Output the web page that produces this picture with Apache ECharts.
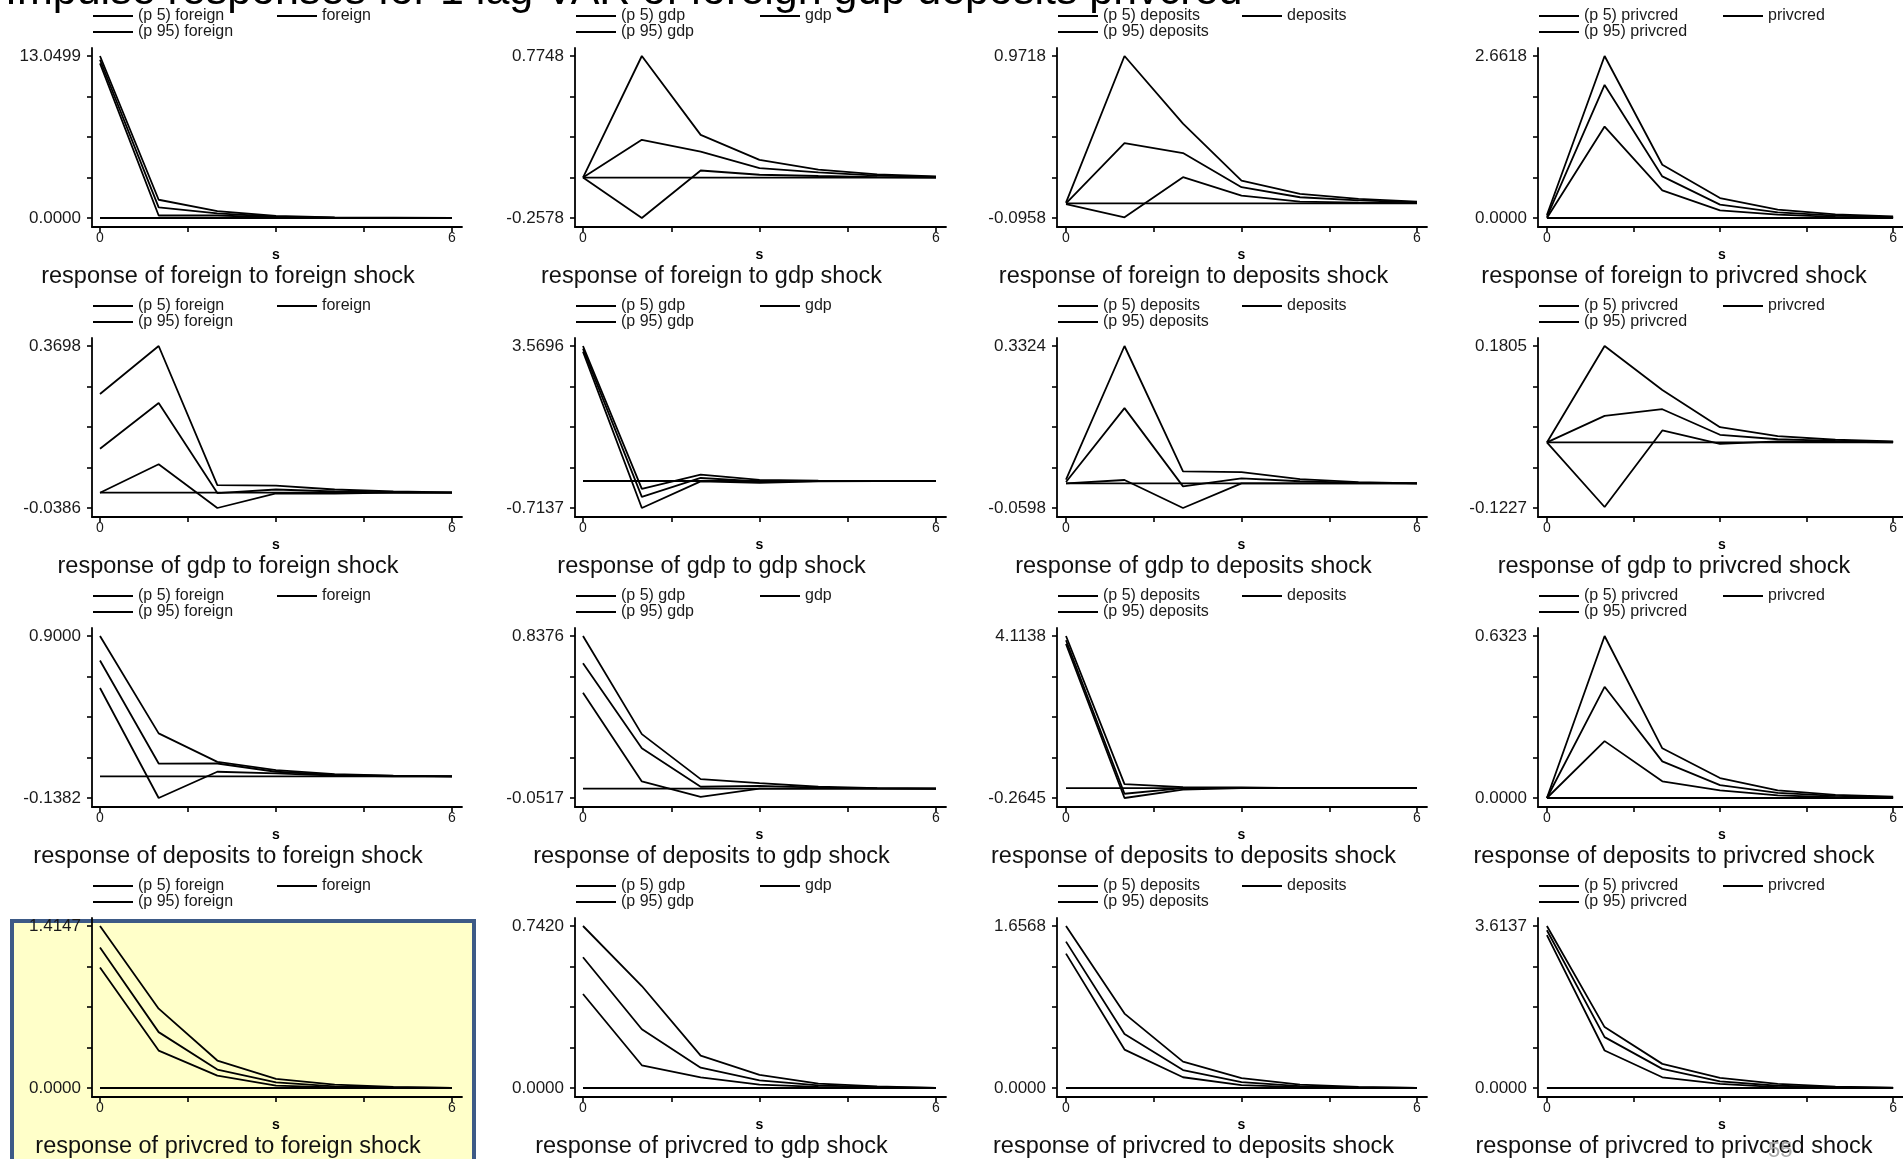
<!DOCTYPE html>
<html><head><meta charset="utf-8">
<script src="https://cdn.jsdelivr.net/npm/echarts@6/dist/echarts.min.js"></script>
<style>html,body{margin:0;padding:0;background:#fff}#c{width:1903px;height:1159px}</style>
</head><body><div id="c"></div>
<script>
const titleText = 'Impulse responses for 1 lag VAR of foreign gdp deposits privcred';
const steps = [0, 1, 2, 3, 4, 5, 6];
const zeroLine = [0, 0, 0, 0, 0, 0, 0];
const variables = ['foreign', 'gdp', 'deposits', 'privcred'];
const xTicks = [0, 1.5, 3, 4.5, 6];
const xLabels = [0, 6];

// labelled axis maximum / minimum, [response][impulse]
const yMaxLabel = [
  [13.0499, 0.7748, 0.9718, 2.6618],
  [0.3698, 3.5696, 0.3324, 0.1805],
  [0.9000, 0.8376, 4.1138, 0.6323],
  [1.4147, 0.7420, 1.6568, 3.6137]
];
const yMinLabel = [
  [0.0000, -0.2578, -0.0958, 0.0000],
  [-0.0386, -0.7137, -0.0598, -0.1227],
  [-0.1382, -0.0517, -0.2645, 0.0000],
  [0.0000, 0.0000, 0.0000, 0.0000]
];

// response of foreign to [foreign, gdp, deposits, privcred] shocks
const p5_foreign = [
  [12.45, 0.20, 0.20, 0.05, 0.01, 0.00, 0.00],
  [0, -0.2578, 0.045, 0.018, 0.010, 0.003, 0.000],
  [-0.005, -0.091, 0.173, 0.052, 0.012, 0.005, 0.002],
  [0, 1.503, 0.454, 0.126, 0.055, 0.020, 0.005]
];
const irf_foreign = [
  [12.75, 0.85, 0.38, 0.10, 0.03, 0.01, 0.003],
  [0, 0.2405, 0.166, 0.060, 0.033, 0.012, 0.004],
  [0, 0.398, 0.332, 0.107, 0.041, 0.020, 0.008],
  [0.02, 2.186, 0.683, 0.219, 0.093, 0.040, 0.015]
];
const p95_foreign = [
  [13.0499, 1.47, 0.55, 0.16, 0.05, 0.02, 0.005],
  [0, 0.7748, 0.272, 0.113, 0.050, 0.020, 0.008],
  [0.005, 0.9718, 0.526, 0.151, 0.063, 0.030, 0.012],
  [0.05, 2.6618, 0.875, 0.328, 0.137, 0.060, 0.025]
];
// response of gdp
const p5_gdp = [
  [0, 0.0716, -0.0386, -0.002, -0.002, 0, 0],
  [3.42, -0.7137, -0.01, -0.05, -0.01, -0.003, 0],
  [0, 0.008, -0.0598, 0.000, 0.000, 0, 0],
  [0, -0.1208, 0.0224, -0.0025, 0.002, 0.001, 0]
];
const irf_gdp = [
  [0.1109, 0.226, -0.001, 0.008, 0.003, 0.001, 0],
  [3.50, -0.42, 0.08, -0.01, 0.00, 0, 0],
  [0.003, 0.182, -0.0075, 0.012, 0.005, 0.001, 0],
  [0, 0.0498, 0.0622, 0.0143, 0.006, 0.003, 0.001]
];
const p95_gdp = [
  [0.2487, 0.3698, 0.019, 0.018, 0.008, 0.003, 0.001],
  [3.5696, -0.21, 0.17, 0.03, 0.01, 0.003, 0],
  [0.009, 0.3324, 0.029, 0.027, 0.010, 0.003, 0],
  [0, 0.1805, 0.0983, 0.0286, 0.012, 0.005, 0.002]
];
// response of deposits
const p5_deposits = [
  [0.5667, -0.1382, 0.030, 0.020, 0.005, 0, 0],
  [0.526, 0.039, -0.045, 0.000, 0, 0, 0],
  [3.90, -0.2645, -0.04, 0.00, 0, 0, 0],
  [0, 0.222, 0.065, 0.030, 0.010, 0.003, 0]
];
const irf_deposits = [
  [0.743, 0.0826, 0.083, 0.030, 0.010, 0.003, 0],
  [0.688, 0.221, 0.010, 0.015, 0.005, 0.001, 0],
  [4.00, -0.15, 0.00, 0.01, 0.003, 0, 0],
  [0, 0.434, 0.143, 0.050, 0.020, 0.008, 0.003]
];
const p95_deposits = [
  [0.9000, 0.2758, 0.093, 0.040, 0.015, 0.005, 0],
  [0.8376, 0.299, 0.052, 0.030, 0.010, 0.003, 0],
  [4.1138, 0.11, 0.03, 0.02, 0.005, 0, 0],
  [0, 0.6323, 0.194, 0.078, 0.030, 0.012, 0.005]
];
// response of privcred
const p5_privcred = [
  [1.052, 0.327, 0.108, 0.020, 0.005, 0, 0],
  [0.4305, 0.104, 0.049, 0.015, 0.005, 0, 0],
  [1.374, 0.393, 0.110, 0.030, 0.008, 0.002, 0],
  [3.41, 0.836, 0.239, 0.090, 0.020, 0.005, 0]
];
const irf_privcred = [
  [1.2276, 0.488, 0.161, 0.050, 0.015, 0.005, 0],
  [0.599, 0.269, 0.093, 0.035, 0.012, 0.004, 0],
  [1.497, 0.552, 0.184, 0.060, 0.020, 0.006, 0],
  [3.52, 1.135, 0.426, 0.149, 0.050, 0.020, 0.005]
];
const p95_privcred = [
  [1.4147, 0.6927, 0.240, 0.079, 0.030, 0.010, 0],
  [0.742, 0.467, 0.148, 0.060, 0.020, 0.007, 0],
  [1.6568, 0.761, 0.270, 0.100, 0.035, 0.012, 0],
  [3.6137, 1.359, 0.538, 0.224, 0.090, 0.030, 0.010]
];

const P5 = [p5_foreign, p5_gdp, p5_deposits, p5_privcred];
const IRF = [irf_foreign, irf_gdp, irf_deposits, irf_privcred];
const P95 = [p95_foreign, p95_gdp, p95_deposits, p95_privcred];

// ---------- layout ----------
const FONT = 'Liberation Sans, Arial, sans-serif';
const colAxisX = [92, 575, 1057, 1538];
const colX0 = [100, 583, 1066, 1547];
const colX6 = [452, 936, 1417, 1897];
const rowTop = [56, 346, 636, 926];
const plotH = 162, padTop = 8, padBottom = 9, padRight = 10;

const pairs = arr => steps.map((s, i) => [s, arr[i]]);
const lineStyle = {color: '#000', width: 1.8};

const grids = [], xAxes = [], yAxes = [], series = [], legends = [], graphics = [];

graphics.push({
  type: 'rect', z: -10,
  shape: {x: 12, y: 921, width: 462, height: 260},
  style: {fill: '#FFFFC9', stroke: '#3D5A86', lineWidth: 4}
});

for (let r = 0; r < 4; r++) {
  for (let c = 0; c < 4; c++) {
    const i = r * 4 + c;
    const ax = colAxisX[c], x0 = colX0[c], x6 = colX6[c];
    const unitX = (x6 - x0) / 6;
    const top = rowTop[r];
    const ymax = yMaxLabel[r][c], ymin = yMinLabel[r][c];
    const unitY = (ymax - ymin) / plotH;
    const imp = variables[c], resp = variables[r];

    grids.push({left: ax, top: top - padTop, width: x6 + padRight - ax, height: plotH + padTop + padBottom});

    xAxes.push({
      gridIndex: i, type: 'value', z: 3,
      min: -(x0 - ax) / unitX, max: 6 + padRight / unitX,
      axisLine: {show: true, onZero: false, lineStyle: {color: '#000', width: 1.8}},
      axisTick: {show: true, length: 5, customValues: xTicks, lineStyle: {color: '#000', width: 1.6}},
      axisLabel: {customValues: xLabels, fontSize: 14, color: '#1a1a1a', margin: 4, fontFamily: FONT,
        formatter: v => String(Math.round(v))},
      splitLine: {show: false}
    });

    const yt = [0, 1, 2, 3, 4].map(k => ymin + (ymax - ymin) * k / 4);
    yAxes.push({
      gridIndex: i, type: 'value', z: 3,
      min: ymin - padBottom * unitY, max: ymax + padTop * unitY,
      axisLine: {show: true, onZero: false, lineStyle: {color: '#000', width: 1.8}},
      axisTick: {show: true, length: 5, customValues: yt, lineStyle: {color: '#000', width: 1.6}},
      axisLabel: {customValues: [ymin, ymax], fontSize: 17, color: '#1a1a1a', margin: 11, fontFamily: FONT,
        formatter: v => v.toFixed(4)},
      splitLine: {show: false}
    });

    const base = {type: 'line', xAxisIndex: i, yAxisIndex: i, symbol: 'none', lineStyle,
      color: '#000', itemStyle: {color: '#000'}, silent: true, z: 4};
    series.push(Object.assign({}, base, {name: 'zero-' + i, data: pairs(zeroLine)}));
    series.push(Object.assign({}, base, {name: '(p 5) ' + imp, data: pairs(P5[r][c])}));
    series.push(Object.assign({}, base, {name: imp, data: pairs(IRF[r][c])}));
    series.push(Object.assign({}, base, {name: '(p 95) ' + imp, data: pairs(P95[r][c])}));

    const lg = {icon: 'rect', itemWidth: 40, itemHeight: 2, itemStyle: {color: '#000'},
      padding: 0, selectedMode: false,
      textStyle: {fontSize: 16, color: '#1a1a1a', fontFamily: FONT}};
    legends.push(Object.assign({}, lg, {data: ['(p 5) ' + imp], left: ax + 1, top: top - 48}));
    legends.push(Object.assign({}, lg, {data: [imp], left: ax + 185, top: top - 48}));
    legends.push(Object.assign({}, lg, {data: ['(p 95) ' + imp], left: ax + 1, top: top - 32}));

    const cx = (x0 + x6) / 2;
    graphics.push({type: 'text', x: cx, y: top + 199,
      style: {text: 's', fill: '#000', font: 'bold 14px ' + FONT, align: 'center', verticalAlign: 'middle',
        textAlign: 'center', textVerticalAlign: 'middle'}});
    graphics.push({type: 'text', x: cx - 48, y: top + 221,
      style: {text: 'response of ' + resp + ' to ' + imp + ' shock', fill: '#111', font: '23.5px ' + FONT,
        align: 'center', verticalAlign: 'middle', textAlign: 'center', textVerticalAlign: 'middle'}});
  }
}

graphics.push({type: 'text', x: 1768, y: 1140,
  style: {text: '55', fill: '#aaa', font: '22px ' + FONT}});

const chart = echarts.init(document.getElementById('c'), null, {renderer: 'canvas'});
chart.setOption({
  animation: false,
  backgroundColor: '#fff',
  title: {text: titleText, left: 0, top: -34,
    textStyle: {fontSize: 43, fontWeight: 'normal', color: '#000', fontFamily: FONT}},
  grid: grids, xAxis: xAxes, yAxis: yAxes, series: series, legend: legends,
  graphic: graphics
});
</script></body></html>
